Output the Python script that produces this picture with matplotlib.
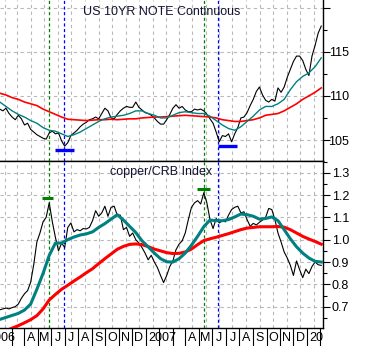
import numpy as np
import pandas as pd
import matplotlib
matplotlib.use('Agg')
from matplotlib import pyplot as plt
import matplotlib.dates as mdates
from matplotlib.ticker import MultipleLocator, FuncFormatter

plt.rcParams['font.family'] = ['Liberation Sans', 'DejaVu Sans']

# weekly closes and fortnightly moving-average readings
weeks = pd.date_range('2006-01-20', periods=105, freq='7D')
fortnights = pd.date_range('2006-01-20', periods=53, freq='14D')

note_close = [108.5, 108.3, 108.6, 108.0, 107.6, 107.3, 107.8, 107.4, 106.7, 106.9,
              106.2, 105.9, 105.6, 105.4, 105.2, 105.1, 105.8, 106.0, 105.7, 105.8,
              104.9, 104.3, 104.7, 105.5, 105.8, 106.1, 106.5, 106.8, 107.0, 107.3,
              107.4, 107.6, 107.4, 108.0, 108.6, 108.3, 107.5, 107.4, 107.9, 108.3,
              108.6, 108.8, 108.7, 108.7, 109.3, 108.7, 108.4, 108.1, 108.0, 107.8,
              107.5, 107.1, 106.8, 106.8, 107.3, 107.9, 108.6, 109.0, 108.6, 108.8,
              108.4, 108.2, 108.2, 108.5, 108.4, 108.5, 108.3, 107.9, 107.4, 106.9,
              105.9, 104.8, 105.5, 105.4, 105.7, 104.8, 105.7, 106.4, 107.5, 107.6,
              108.1, 108.9, 109.6, 110.5, 111.0, 110.1, 109.5, 109.3, 109.6, 109.4,
              110.9, 110.4, 111.0, 112.1, 113.0, 113.9, 114.5, 114.5, 114.0, 113.0,
              112.3, 114.5, 115.7, 117.1, 117.9]
note_ma_short = [109.3, 108.8, 108.3, 107.9, 107.6, 107.2, 106.9, 106.4, 106.1, 106.0,
                 105.7, 105.4, 105.6, 105.9, 106.3, 106.7, 107.1, 107.4, 107.6, 107.7,
                 107.8, 108.0, 108.3, 108.3, 108.0, 107.8, 107.5, 107.5, 107.8, 108.1,
                 108.2, 108.1, 108.0, 108.0, 107.7, 107.2, 106.7, 106.3, 106.1, 106.5,
                 107.1, 107.7, 108.4, 108.8, 108.8, 109.1, 109.6, 110.7, 111.6, 112.2,
                 112.6, 113.3, 114.3]
note_ma_long = [110.3, 110.1, 109.8, 109.6, 109.3, 109.1, 108.9, 108.5, 108.2, 107.9,
                107.6, 107.35, 107.3, 107.25, 107.2, 107.25, 107.3, 107.3, 107.35, 107.3,
                107.35, 107.4, 107.4, 107.5, 107.55, 107.6, 107.6, 107.65, 107.7, 107.75,
                107.8, 107.75, 107.7, 107.65, 107.6, 107.5, 107.3, 107.2, 107.1, 107.1,
                107.2, 107.3, 107.5, 107.8, 107.9, 108.0, 108.3, 108.7, 109.1, 109.6,
                110.0, 110.4, 110.9]

ratio_close = [0.686, 0.690, 0.694, 0.690, 0.696, 0.700, 0.712, 0.738, 0.758, 0.772,
               0.810, 0.890, 0.990, 1.030, 1.080, 1.100, 1.165, 1.080, 1.010, 0.950,
               0.985, 0.965, 1.055, 1.075, 1.035, 1.045, 1.040, 1.050, 1.048, 1.055,
               1.085, 1.130, 1.105, 1.120, 1.150, 1.105, 1.145, 1.150, 1.110, 1.110,
               1.045, 1.055, 1.015, 1.030, 1.000, 0.985, 0.965, 0.940, 0.910, 0.930,
               0.900, 0.875, 0.840, 0.808, 0.840, 0.880, 0.905, 0.955, 0.980, 0.995,
               1.030, 1.090, 1.145, 1.165, 1.175, 1.160, 1.210, 1.165, 1.090, 1.050,
               1.095, 1.075, 1.085, 1.080, 1.110, 1.135, 1.145, 1.150, 1.120, 1.125,
               1.090, 1.060, 1.073, 1.066, 1.078, 1.088, 1.100, 1.140, 1.135, 1.090,
               1.030, 0.990, 0.945, 0.918, 0.885, 0.840, 0.905, 0.866, 0.830, 0.868,
               0.848, 0.880, 0.900, 0.888, 0.885]
ratio_ma_short = [0.643, 0.652, 0.661, 0.670, 0.685, 0.712, 0.778, 0.849, 0.930, 0.985,
                  0.985, 1.000, 1.012, 1.021, 1.026, 1.035, 1.055, 1.072, 1.092, 1.112,
                  1.088, 1.060, 1.032, 0.995, 0.968, 0.940, 0.915, 0.901, 0.900, 0.915,
                  0.940, 0.975, 1.015, 1.058, 1.088, 1.085, 1.085, 1.090, 1.102, 1.115,
                  1.112, 1.105, 1.092, 1.095, 1.102, 1.085, 1.045, 1.004, 0.968, 0.940,
                  0.918, 0.903, 0.900]
ratio_ma_long = [0.585, 0.592, 0.604, 0.615, 0.628, 0.642, 0.660, 0.690, 0.730, 0.755,
                 0.778, 0.796, 0.815, 0.833, 0.852, 0.870, 0.893, 0.915, 0.936, 0.957,
                 0.970, 0.979, 0.981, 0.978, 0.969, 0.958, 0.950, 0.942, 0.938, 0.939,
                 0.945, 0.958, 0.978, 0.996, 1.004, 1.011, 1.019, 1.027, 1.036, 1.045,
                 1.052, 1.055, 1.058, 1.058, 1.058, 1.059, 1.056, 1.045, 1.030, 1.015,
                 1.003, 0.992, 0.980]

# copper/CRB peaks (green) and bond lows (blue)
peak_dates = ['2006-05-12', '2007-04-28']
low_dates = ['2006-06-15', '2007-05-30']
peak_start = ['2006-04-26', '2007-04-11']
peak_end = ['2006-05-21', '2007-05-11']
peak_level = [1.188, 1.227]
low_start = ['2006-05-26', '2007-05-29']
low_end = ['2006-07-08', '2007-07-12']
low_level = [103.9, 104.3]

month_letters = 'JFMAMJJASOND'

x_min = pd.Timestamp('2006-01-20 12:00')
x_max = pd.Timestamp('2008-01-21')

TEAL = '#008080'
GREEN = '#008000'
BLUE = '#0000ff'
GRID = '#b8b8b8'

fig = plt.figure(figsize=(3.71, 3.46), dpi=100)
ax1 = fig.add_axes([0, 0.5361, 0.8695, 0.4639])
ax2 = fig.add_axes([0, 0.0512, 0.8695, 0.4849])
axl = fig.add_axes([0, 0, 0.8695, 0.0512])

for ax in (ax1, ax2):
    ax.set_xlim(x_min, x_max)
    ax.spines['left'].set_visible(False)
    for s in ax.spines.values():
        s.set_linewidth(1.0)
    ax.yaxis.tick_right()
    ax.xaxis.set_minor_locator(mdates.MonthLocator())
    ax.xaxis.set_major_locator(mdates.MonthLocator(bymonthday=16))
    ax.grid(axis='x', which='minor', color=GRID, ls=(0, (3, 3)), lw=0.8)
    ax.grid(axis='y', which='major', color=GRID, ls=(0, (3, 3)), lw=0.8)
    ax.tick_params(axis='x', which='minor', length=0)
    ax.tick_params(axis='y', which='major', direction='out', length=5, width=0.8,
                   labelsize=9, pad=14)
    ax.tick_params(axis='y', which='minor', direction='out', length=3, width=0.8)
    for lbl in ax.get_yticklabels():
        lbl.set_horizontalalignment('right')
    for d in peak_dates:
        ax.axvline(pd.Timestamp(d), color=GREEN, ls=(0, (2.5, 2)), lw=0.9, zorder=3)
    for d in low_dates:
        ax.axvline(pd.Timestamp(d), color=BLUE, ls=(0, (2.5, 2)), lw=0.9, zorder=3)

ax1.spines['top'].set_visible(False)
ax1.tick_params(axis='x', which='major', length=0, labelbottom=False)
ax2.tick_params(axis='x', which='major', direction='out', length=12.8, width=0.8,
                labelbottom=False)

# US 10yr note panel
ax1.set_ylim(102.68, 120.85)
ax1.yaxis.set_major_locator(MultipleLocator(5))
ax1.yaxis.set_minor_locator(MultipleLocator(2.5))
ax1.yaxis.set_major_formatter(FuncFormatter(lambda v, p: '' if v > 117 else '%d' % v))
ax1.plot(weeks, note_close, color='black', lw=0.8, zorder=4)
ax1.plot(fortnights, note_ma_long, color='red', lw=1.2, zorder=5)
ax1.plot(fortnights, note_ma_short, color=TEAL, lw=1.0, zorder=6)
ax1.hlines(low_level, pd.to_datetime(low_start), pd.to_datetime(low_end),
           color=BLUE, lw=2.4, zorder=7)
ax1.text(0.5, 0.927, 'US 10YR NOTE Continuous', transform=ax1.transAxes,
         ha='center', va='center', fontsize=9, color='#141432')

# copper/CRB panel
ax2.set_ylim(0.6033, 1.3546)
ax2.yaxis.set_major_locator(MultipleLocator(0.1))
ax2.yaxis.set_minor_locator(MultipleLocator(0.05))
ax2.yaxis.set_major_formatter(FuncFormatter(lambda v, p: '%.1f' % v))
ax2.plot(weeks, ratio_close, color='black', lw=0.8, zorder=4)
ax2.plot(fortnights, ratio_ma_long, color='red', lw=2.2, zorder=5)
ax2.plot(fortnights, ratio_ma_short, color=TEAL, lw=2.2, zorder=6)
ax2.hlines(peak_level, pd.to_datetime(peak_start), pd.to_datetime(peak_end),
           color=GREEN, lw=2.2, zorder=7)
ax2.text(0.5, 0.933, 'copper/CRB Index', transform=ax2.transAxes,
         ha='center', va='center', fontsize=9, color='#141432')

# month letters under the lower panel, clipped at the plot edge
axl.set_xlim(x_min, x_max)
axl.set_ylim(0, 1)
axl.axis('off')
for m in pd.date_range('2006-01-01', '2008-01-01', freq='MS'):
    if m.month == 1:
        axl.text(m - pd.Timedelta(days=10), 0.47, str(m.year), ha='left', va='center',
                 fontsize=9, clip_on=True)
    elif m.month > 3:
        axl.text(m, 0.47, month_letters[m.month - 1], ha='center', va='center',
                 fontsize=9, clip_on=True)

fig.savefig('out.png', dpi=100)
